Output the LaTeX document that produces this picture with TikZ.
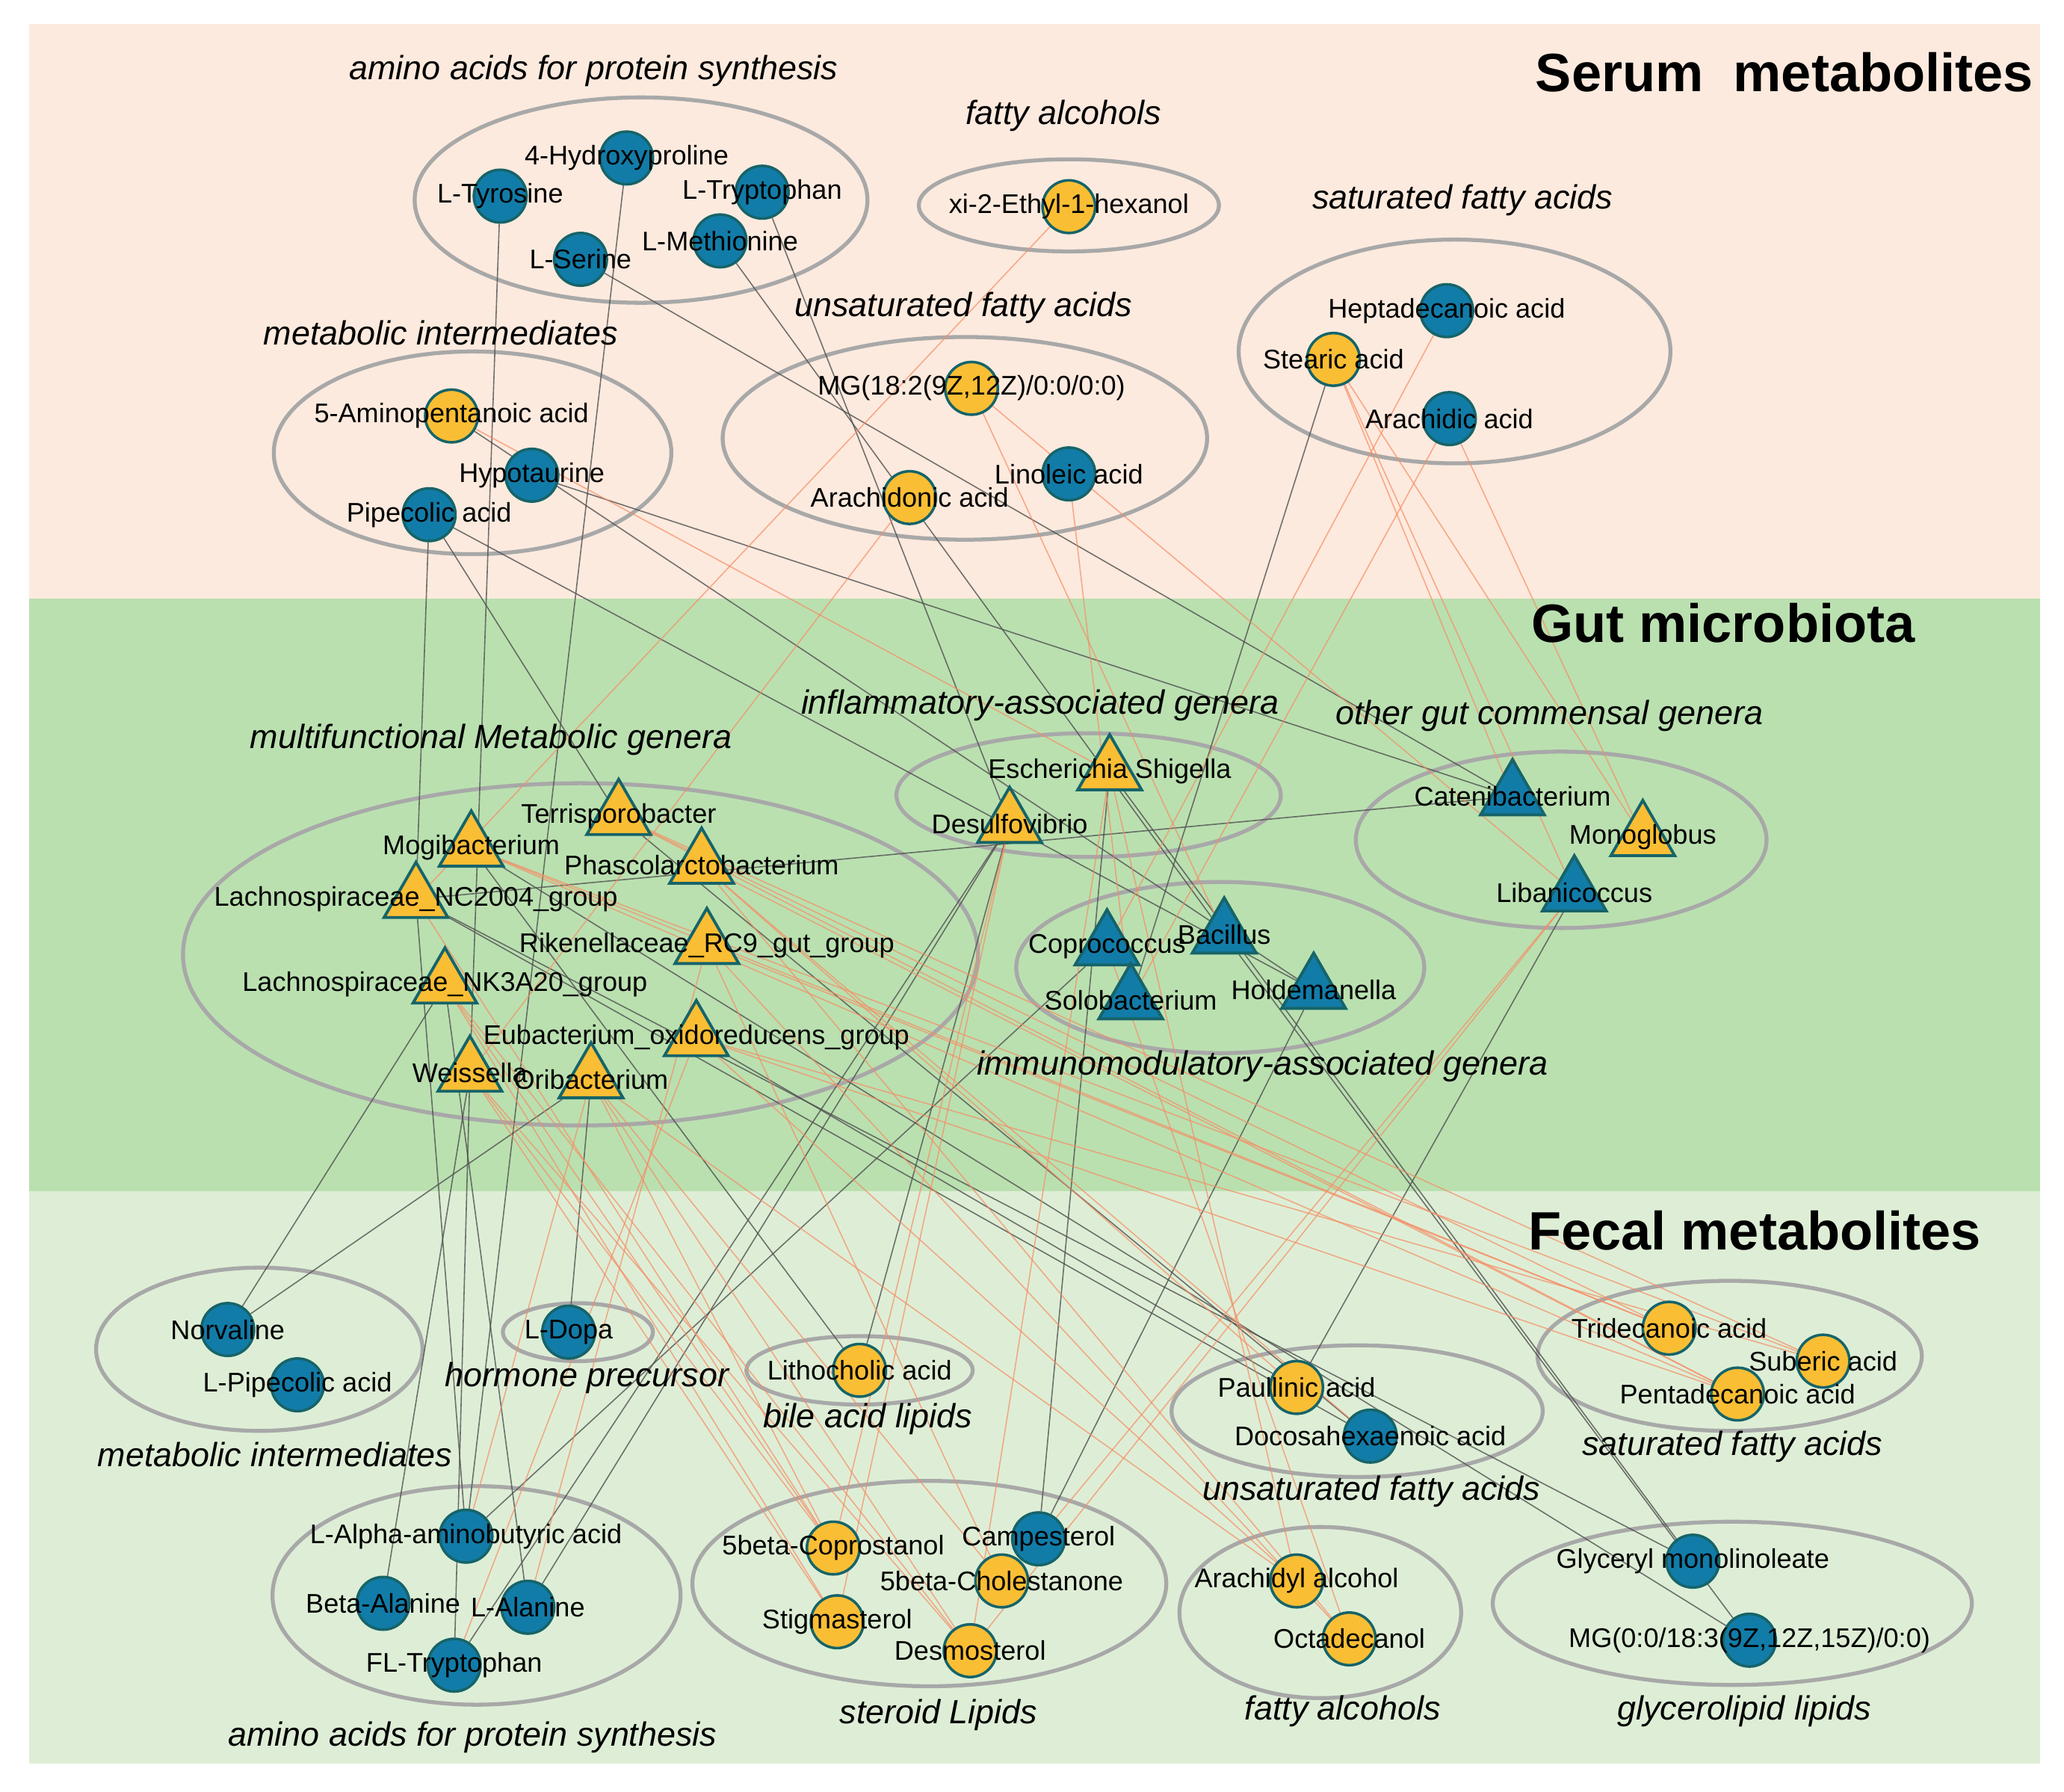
\documentclass[tikz,border=0pt]{standalone}
\usepackage{fontspec}
\setmainfont{Liberation Sans}
\usetikzlibrary{shapes.geometric}
\definecolor{bl}{RGB}{18,124,168}
\definecolor{bd}{RGB}{22,100,105}
\definecolor{og}{RGB}{250,190,52}
\definecolor{oe}{RGB}{246,140,100}
\definecolor{ge}{RGB}{80,80,80}
\definecolor{serum}{RGB}{253,234,222}
\definecolor{gut}{RGB}{186,224,176}
\definecolor{fecal}{RGB}{222,238,214}
\definecolor{ell}{RGB}{168,168,168}
\pgfdeclarelayer{bg}\pgfdeclarelayer{edge}\pgfdeclarelayer{lab}
\pgfsetlayers{bg,edge,main,lab}
\tikzset{
 cb/.style={circle,draw=bd,line width=2pt,fill=bl,minimum size=40pt,inner sep=0},
 co/.style={circle,draw=bd,line width=2pt,fill=og,minimum size=40pt,inner sep=0},
 tb/.style={regular polygon,regular polygon sides=3,draw=bd,line width=2.2pt,fill=bl,minimum size=56pt,inner sep=0},
 to/.style={regular polygon,regular polygon sides=3,draw=bd,line width=2.2pt,fill=og,minimum size=56pt,inner sep=0},
 lbl/.style={font=\fontsize{20.5}{22}\selectfont,inner sep=0},
 grp/.style={font=\fontsize{25.5}{27}\selectfont\itshape,inner sep=0},
 ttl/.style={font=\fontsize{41}{42}\selectfont\bfseries,inner sep=0},
 el/.style={draw=ell,line width=3pt},
 ge/.style={draw=ge,line width=0.9pt,opacity=0.8},
 oe/.style={draw=oe,line width=0.9pt,opacity=0.7},
}
\newcommand\Nd[5]{\node[#4] (#1) at (#2,#3) {};
 \begin{pgfonlayer}{lab}\node[lbl] at (#1) {#5};\end{pgfonlayer}}
\begin{document}
\begin{tikzpicture}[x=1pt,y=-1pt]
\useasboundingbox (0,0) rectangle (1568,1361);
\begin{pgfonlayer}{bg}
\fill[white] (0,0) rectangle (1568,1361);
\fill[serum] (22,18) rectangle (1550,455);
\fill[gut] (22,455) rectangle (1550,905);
\fill[fecal] (22,905) rectangle (1550,1340);
\draw[el] (487,152) ellipse [x radius=172,y radius=78];
\draw[el] (812,156) ellipse [x radius=114,y radius=35];
\draw[el] (1105,267) ellipse [x radius=164,y radius=85];
\draw[el] (733,333) ellipse [x radius=184,y radius=77];
\draw[el] (359,344) ellipse [x radius=151,y radius=77];
\draw[el] (441,725) ellipse [x radius=302,y radius=130];
\draw[el] (827,604) ellipse [x radius=146,y radius=47];
\draw[el] (1186,638) ellipse [x radius=156,y radius=67];
\draw[el] (927,735) ellipse [x radius=155,y radius=65];
\draw[el] (197,1025) ellipse [x radius=124,y radius=62];
\draw[el] (439,1012) ellipse [x radius=57,y radius=22];
\draw[el] (653,1041) ellipse [x radius=86,y radius=26];
\draw[el] (1031,1072) ellipse [x radius=141,y radius=50];
\draw[el] (1314,1030) ellipse [x radius=146,y radius=57];
\draw[el] (362,1212) ellipse [x radius=155,y radius=83];
\draw[el] (706,1203) ellipse [x radius=180,y radius=78];
\draw[el] (1003,1225) ellipse [x radius=107,y radius=65];
\draw[el] (1316,1218) ellipse [x radius=182,y radius=62];
\end{pgfonlayer}
% titles and group labels
\node[ttl,anchor=east] (t1) at (1545,55) {Serum\ \ metabolites};
\node[ttl] (t2) at (1309,473) {Gut microbiota};
\node[ttl] (t3) at (1333,935) {Fecal metabolites};
\node[grp] (g1) at (451,54) {amino acids for protein synthesis};
\node[grp] (g2) at (808,88) {fatty alcohols};
\node[grp] (g3) at (1111,152) {saturated fatty acids};
\node[grp] (g4) at (732,234) {unsaturated fatty acids};
\node[grp] (g5) at (335,253) {metabolic intermediates};
\node[grp] (g6) at (373,562) {multifunctional Metabolic genera};
\node[grp] (g7) at (790,536) {inflammatory-associated genera};
\node[grp] (g8) at (1177,544) {other gut commensal genera};
\node[grp] (g9) at (959,810) {immunomodulatory-associated genera};
\node[grp] (g10) at (446,1047) {hormone precursor};
\node[grp] (g11) at (209,1105) {metabolic intermediates};
\node[grp] (g12) at (659,1078) {bile acid lipids};
\node[grp] (g13) at (1316,1099) {saturated fatty acids};
\node[grp] (g14) at (1042,1133) {unsaturated fatty acids};
\node[grp] (g15) at (359,1320) {amino acids for protein synthesis};
\node[grp] (g16) at (713,1303) {steroid Lipids};
\node[grp] (g17) at (1020,1300) {fatty alcohols};
\node[grp] (g18) at (1325,1300) {glycerolipid lipids};
% serum nodes
\Nd{hyp}{476}{120}{cb}{4-Hydroxyproline}
\Nd{tyr}{380}{149}{cb}{L-Tyrosine}
\Nd{trp}{579}{146}{cb}{L-Tryptophan}
\Nd{ser}{441}{197}{cb}{L-Serine}
\Nd{met}{547}{183}{cb}{L-Methionine}
\Nd{eth}{812}{157}{co}{xi-2-Ethyl-1-hexanol}
\Nd{hep}{1099}{236}{cb}{Heptadecanoic acid}
\Nd{ste}{1013}{273}{co}{Stearic acid}
\Nd{ara}{1101}{318}{cb}{Arachidic acid}
\Nd{mg}{738}{295}{co}{MG(18:2(9Z,12Z)/0:0/0:0)}
\Nd{lin}{812}{360}{cb}{Linoleic acid}
\Nd{adn}{691}{378}{co}{Arachidonic acid}
\Nd{amp}{343}{316}{co}{5-Aminopentanoic acid}
\Nd{hto}{404}{361}{cb}{Hypotaurine}
\Nd{pip}{326}{391}{cb}{Pipecolic acid}
% gut nodes
\Nd{ter}{470}{620}{to}{Terrisporobacter}
\Nd{mog}{358}{644}{to}{Mogibacterium}
\Nd{pha}{533}{657}{to}{Phascolarctobacterium}
\Nd{nc}{316}{683}{to}{Lachnospiraceae\_NC2004\_group}
\Nd{rik}{537}{718}{to}{Rikenellaceae\_RC9\_gut\_group}
\Nd{nk}{338}{748}{to}{Lachnospiraceae\_NK3A20\_group}
\Nd{eub}{529}{788}{to}{Eubacterium\_oxidoreducens\_group}
\Nd{wei}{357}{815}{to}{Weissella}
\Nd{ori}{449}{820}{to}{Oribacterium}
\Nd{esc}{843}{586}{to}{Escherichia Shigella}
\Nd{des}{767}{626}{to}{Desulfovibrio}
\Nd{mon}{1248}{636}{to}{Monoglobus}
\Nd{cat}{1149}{605}{tb}{Catenibacterium}
\Nd{lib}{1196}{678}{tb}{Libanicoccus}
\Nd{cop}{841}{719}{tb}{Coprococcus}
\Nd{bac}{930}{710}{tb}{Bacillus}
\Nd{sol}{859}{760}{tb}{Solobacterium}
\Nd{hol}{998}{752}{tb}{Holdemanella}
% fecal nodes
\Nd{nor}{173}{1010}{cb}{Norvaline}
\Nd{lpi}{226}{1052}{cb}{L-Pipecolic acid}
\Nd{dop}{432}{1012}{cb}{L-Dopa}
\Nd{lit}{653}{1041}{co}{Lithocholic acid}
\Nd{pau}{985}{1054}{co}{Paullinic acid}
\Nd{doc}{1041}{1091}{cb}{Docosahexaenoic acid}
\Nd{tri}{1268}{1009}{co}{Tridecanoic acid}
\Nd{sub}{1385}{1034}{co}{Suberic acid}
\Nd{pen}{1320}{1059}{co}{Pentadecanoic acid}
\Nd{aab}{354}{1167}{cb}{L-Alpha-aminobutyric acid}
\Nd{bal}{291}{1218}{cb}{Beta-Alanine}
\Nd{ala}{401}{1221}{cb}{L-Alanine}
\Nd{ftr}{345}{1265}{cb}{FL-Tryptophan}
\Nd{cpr}{633}{1176}{co}{5beta-Coprostanol}
\Nd{cam}{789}{1169}{cb}{Campesterol}
\Nd{cho}{761}{1201}{co}{5beta-Cholestanone}
\Nd{sti}{636}{1232}{co}{Stigmasterol}
\Nd{dsm}{737}{1254}{co}{Desmosterol}
\Nd{ary}{985}{1201}{co}{Arachidyl alcohol}
\Nd{oct}{1025}{1245}{co}{Octadecanol}
\Nd{gly}{1286}{1186}{cb}{Glyceryl monolinoleate}
\Nd{mg3}{1329}{1246}{cb}{MG(0:0/18:3(9Z,12Z,15Z)/0:0)}
\begin{pgfonlayer}{edge}
\foreach \a/\b in {met/bac,hto/cat,pip/hol,ste/sol,hyp/aab,pip/nc,esc/gly,des/ala,des/ftr,cop/aab,hol/cam,nc/gly,nc/doc,eub/pau,nk/nor,nor/ori,wei/bal,wei/ftr,nk/ala,ter/doc,mog/mg3,tyr/wei,ser/cat,pip/ter,bac/mg3,lib/pau,cat/nc,amp/hol,trp/des,dop/ori,esc/cam,lit/des,nc/aab,mog/lit}
 \draw[ge] (\a) -- (\b);
\foreach \a/\b in {mog/tri,mog/sub,mog/pen,pha/pen,pha/pau,wei/sti,wei/cpr,wei/dsm,ori/dsm,ori/ary,rik/oct,rik/tri,mon/ste,mon/ara,lib/cam,lib/dsm,adn/wei,eth/nc,hep/cop,ara/sol,eub/pen,eub/sub,ter/tri,nk/cpr,nk/sti,rik/cho,pha/oct,ori/cho,ori/cpr,des/sti,des/cpr,esc/dsm,cop/oct,mg/bac,lin/sol,ste/lib,amp/esc,nc/cpr,eub/ary,ter/pen,ter/sub,pha/doc,nk/dsm,lib/mg,cat/ste,ori/aab,rik/ala,eub/ftr,esc/ary}
 \draw[oe] (\a) -- (\b);
\end{pgfonlayer}
\end{tikzpicture}
\end{document}
